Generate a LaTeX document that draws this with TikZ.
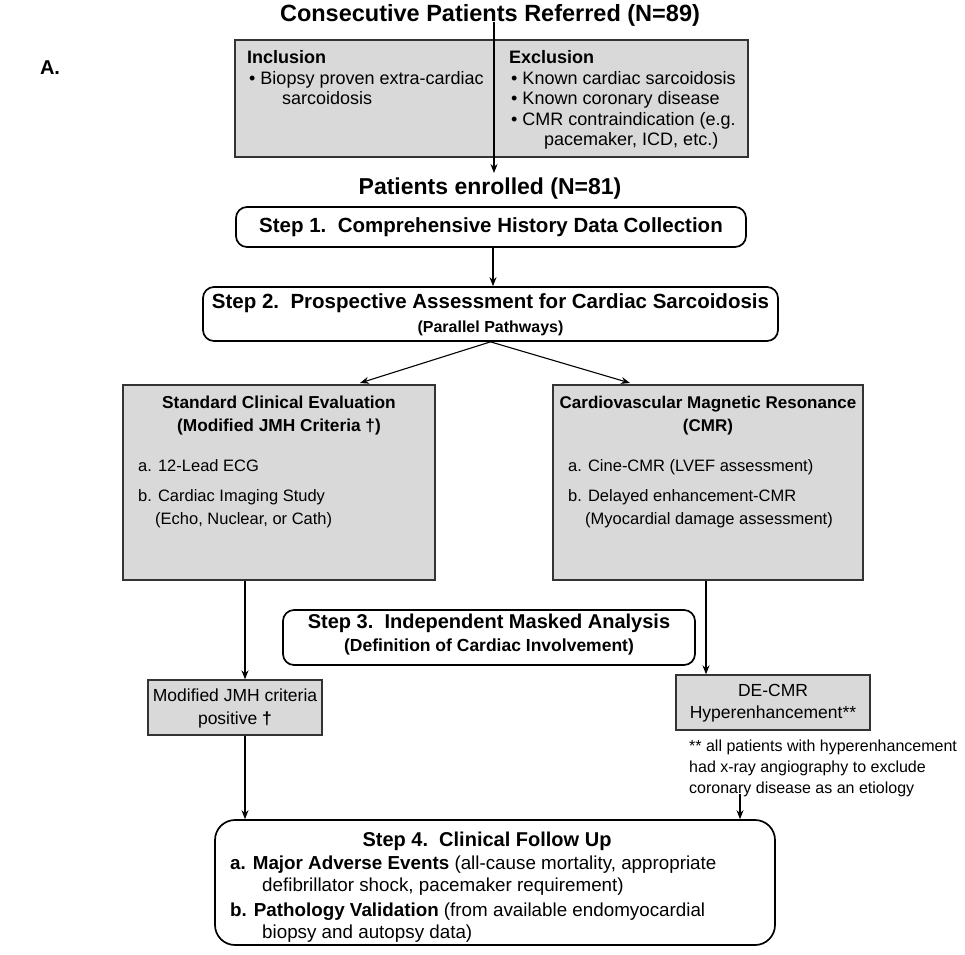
\documentclass[tikz,border=0pt]{standalone}
\usepackage{fontspec}
\setmainfont{Liberation Sans}
\usetikzlibrary{arrows.meta}
\definecolor{boxgray}{RGB}{217,217,217}
\newcommand\myfs[1]{\fontsize{#1}{#1}\selectfont}
\begin{document}
\begin{tikzpicture}[x=1pt,y=-1pt,
  graybox/.style={draw=black!80, line width=1.4pt, fill=boxgray, inner sep=0pt},
  roundbox/.style={draw=black, line width=1.7pt, rounded corners=11pt, fill=white, inner sep=0pt},
  arr/.style={-{Stealth[length=9pt,width=7pt]}, line width=1.1pt},
  lineL/.style={inner sep=0pt, anchor=west, text height=0.72em, text depth=0pt, yshift=-3pt},
  lineC/.style={inner sep=0pt, text height=0.72em, text depth=0pt, yshift=-3pt}]
\useasboundingbox (0,0) rectangle (965,954);

% title
\node[lineC, font=\bfseries\myfs{23.5}] (title) at (490,15) {Consecutive Patients Referred (N=89)};
\node[lineC, font=\bfseries\myfs{20}] (lab) at (50,68) {A.};

% criteria box
\node[graybox, minimum width=513pt, minimum height=117pt] (crit) at (491.5,98.5) {};
\begin{scope}[every node/.style={lineL, font=\myfs{18}}]
\node (i0) at (247,57) {\bfseries Inclusion};
\node (i1) at (249,77.5) {\textbullet\ Biopsy proven extra-cardiac};
\node (i2) at (282,98) {sarcoidosis};
\node (e0) at (509,57) {\bfseries Exclusion};
\node (e1) at (511,77.5) {\textbullet\ Known cardiac sarcoidosis};
\node (e2) at (511,98) {\textbullet\ Known coronary disease};
\node (e3) at (511,118.5) {\textbullet\ CMR contraindication (e.g.};
\node (e4) at (544,139) {pacemaker, ICD, etc.)};
\end{scope}

\node[lineC, font=\bfseries\myfs{23}] (enr) at (490,188) {Patients enrolled (N=81)};
\coordinate (enrtip) at (494,173);
\draw[arr] (title.south -| 494,0) -- (enrtip);

% step 1
\node[roundbox, minimum width=510pt, minimum height=40pt] (s1) at (491,227) {};
\node[lineC, font=\bfseries\myfs{20.5}] (s1t) at (491,226) {Step 1.\ \ Comprehensive History Data Collection};
% step 2
\node[roundbox, minimum width=575pt, minimum height=54pt] (s2) at (490.5,314) {};
\node[lineC, font=\bfseries\myfs{20.5}] (s2t) at (490.5,302) {Step 2.\ \ Prospective Assessment for Cardiac Sarcoidosis};
\node[lineC, font=\bfseries\myfs{16}] (s2p) at (490.5,326) {(Parallel Pathways)};
\draw[arr] (s1.south -| 493,0) -- (s2.north -| 493,0);

% evaluation boxes
\node[graybox, minimum width=312pt, minimum height=195pt] (lbox) at (279,482.5) {};
\node[graybox, minimum width=310pt, minimum height=195pt] (rbox) at (708,482.5) {};
\coordinate (ltip) at (360,383);
\coordinate (rtip) at (630,383);
\draw[arr] (s2.south) -- (ltip);
\draw[arr] (s2.south) -- (rtip);

\node[lineC, font=\bfseries\myfs{17.3}] (lt1) at (279,402) {Standard Clinical Evaluation};
\node[lineC, font=\bfseries\myfs{17.3}] (lt2) at (279,425) {(Modified JMH Criteria \textdagger)};
\begin{scope}[every node/.style={lineL, font=\myfs{16.5}}]
\node (la) at (138,465) {a. 12-Lead ECG};
\node (lb) at (138,495) {b. Cardiac Imaging Study};
\node (lc) at (155,518) {(Echo, Nuclear, or Cath)};
\node (ra) at (568,465) {a. Cine-CMR (LVEF assessment)};
\node (rb) at (568,495) {b. Delayed enhancement-CMR};
\node (rc) at (585,518) {(Myocardial damage assessment)};
\end{scope}
\node[lineC, font=\bfseries\myfs{17}] (rt1) at (708,402) {Cardiovascular Magnetic Resonance};
\node[lineC, font=\bfseries\myfs{17}] (rt2) at (708,425) {(CMR)};

% step 3
\node[roundbox, minimum width=412pt, minimum height=55pt] (s3) at (489,637.5) {};
\node[lineC, font=\bfseries\myfs{20}] (s3t) at (489,622) {Step 3.\ \ Independent Masked Analysis};
\node[lineC, font=\bfseries\myfs{17.5}] (s3d) at (489,645) {(Definition of Cardiac Involvement)};

% result boxes
\node[graybox, minimum width=174pt, minimum height=55pt] (mbox) at (235,707.5) {};
\node[lineC, font=\myfs{17.5}] (m1) at (235,695) {Modified JMH criteria};
\node[lineC, font=\myfs{17.5}] (m2) at (235,718) {positive {\bfseries\textdagger}};
\node[graybox, minimum width=194pt, minimum height=55pt] (dbox) at (773,702.5) {};
\node[lineC, font=\myfs{17.5}] (d1) at (773,690) {DE-CMR};
\node[lineC, font=\myfs{17.5}] (d2) at (773,712) {Hyperenhancement**};
\begin{scope}[every node/.style={lineL, font=\myfs{16}}]
\node (f1) at (689,745) {** all patients with hyperenhancement};
\node (f2) at (689,766) {had x-ray angiography to exclude};
\node (f3) at (689,787) {coronary disease as an etiology};
\end{scope}

\draw[arr] (lbox.south -| 245,0) -- (mbox.north -| 245,0);
\draw[arr] (rbox.south -| 706,0) -- (dbox.north -| 706,0);

% step 4
\node[roundbox, rounded corners=20pt, minimum width=560pt, minimum height=125pt] (s4) at (495,882.5) {};
\node[lineC, font=\bfseries\myfs{20}] (s4t) at (487,840) {Step 4.\ \ Clinical Follow Up};
\begin{scope}[every node/.style={lineL, font=\myfs{18.8}}]
\node (s4a) at (230,863) {{\bfseries a. Major Adverse Events} (all-cause mortality, appropriate};
\node (s4a2) at (262,885) {defibrillator shock, pacemaker requirement)};
\node (s4b) at (230,910) {{\bfseries b. Pathology Validation} (from available endomyocardial};
\node (s4b2) at (262,932) {biopsy and autopsy data)};
\end{scope}

\draw[arr] (mbox.south -| 245,0) -- (s4.north -| 245,0);
\draw[arr] (f3.south -| 740,0) -- (s4.north -| 740,0);
\end{tikzpicture}
\end{document}
